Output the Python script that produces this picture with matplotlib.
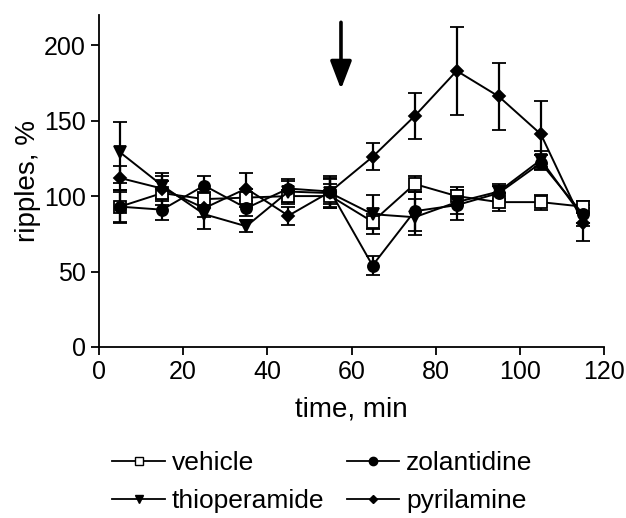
import matplotlib
matplotlib.use('Agg')
import matplotlib.pyplot as plt
from matplotlib.lines import Line2D

# ripples (% of baseline) every 10 min, mean and SEM
time = [5, 15, 25, 35, 45, 55, 65, 75, 85, 95, 105, 115]

vehicle = [93, 102, 98, 99, 100, 100, 83, 108, 100, 96, 96, 93]
vehicle_err = [10, 8, 5, 6, 4, 8, 5, 5, 6, 6, 5, 4]

zolantidine = [93, 91, 107, 92, 105, 103, 54, 90, 94, 102, 122, 88]
zolantidine_err = [11, 7, 6, 5, 5, 10, 6, 13, 10, 5, 5, 6]

thioperamide = [129, 107, 88, 80, 103, 102, 88, 86, 96, 103, 124, 86]
thioperamide_err = [20, 8, 10, 4, 8, 10, 13, 12, 8, 5, 6, 6]

pyrilamine = [112, 105, 92, 105, 87, 103, 126, 153, 183, 166, 141, 82]
pyrilamine_err = [8, 8, 6, 10, 6, 8, 9, 15, 29, 22, 22, 12]

arrow_x = 57.5

plt.rcParams['font.family'] = ['Liberation Sans', 'DejaVu Sans']

fig = plt.figure(figsize=(6.26, 5.18), dpi=100)
ax = fig.add_axes([99 / 626, 1 - 347 / 518, 505 / 626, 332 / 518])

series = [
    (vehicle, vehicle_err, 's', 'white', 8, 'vehicle'),
    (zolantidine, zolantidine_err, 'o', 'black', 8, 'zolantidine'),
    (thioperamide, thioperamide_err, 'v', 'black', 8, 'thioperamide'),
    (pyrilamine, pyrilamine_err, 'D', 'black', 6, 'pyrilamine'),
]

handles = []
for vals, err, mk, fc, ms, name in series:
    ax.errorbar(time, vals, yerr=err, color='black', lw=1.4, marker=mk,
                mfc=fc, mec='black', mew=1.3, ms=ms, capsize=5, capthick=1.6,
                elinewidth=1.6)
    handles.append(Line2D([], [], color='black', lw=1.3, marker=mk, mfc=fc,
                          mec='black', mew=1.0, ms=ms * 0.75, label=name))

ax.annotate('', xy=(arrow_x, 169), xytext=(arrow_x, 217),
            arrowprops=dict(arrowstyle='-|>,head_width=0.65,head_length=1.7',
                            color='black', lw=2.6), annotation_clip=False)

ax.set_xlim(0, 120)
ax.set_ylim(0, 220)
ax.set_xticks(range(0, 121, 20))
ax.set_yticks(range(0, 201, 50))
ax.spines['top'].set_visible(False)
ax.spines['right'].set_visible(False)
ax.spines['left'].set_linewidth(1.3)
ax.spines['bottom'].set_linewidth(1.3)
ax.tick_params(direction='out', length=6, width=1.3, labelsize=18)
ax.set_xlabel('time, min', fontsize=20, labelpad=9)
ax.set_ylabel('ripples, %', fontsize=20, labelpad=2)

# row-wise order: vehicle, zolantidine / thioperamide, pyrilamine
order = [0, 2, 1, 3]
fig.legend(handles=[handles[i] for i in order], loc='lower center', ncol=2,
           frameon=False, fontsize=19, bbox_to_anchor=(0.515, -0.037),
           handlelength=2.0, handletextpad=0.25, columnspacing=0.85,
           labelspacing=0.55)

fig.savefig('out.png', dpi=100)
